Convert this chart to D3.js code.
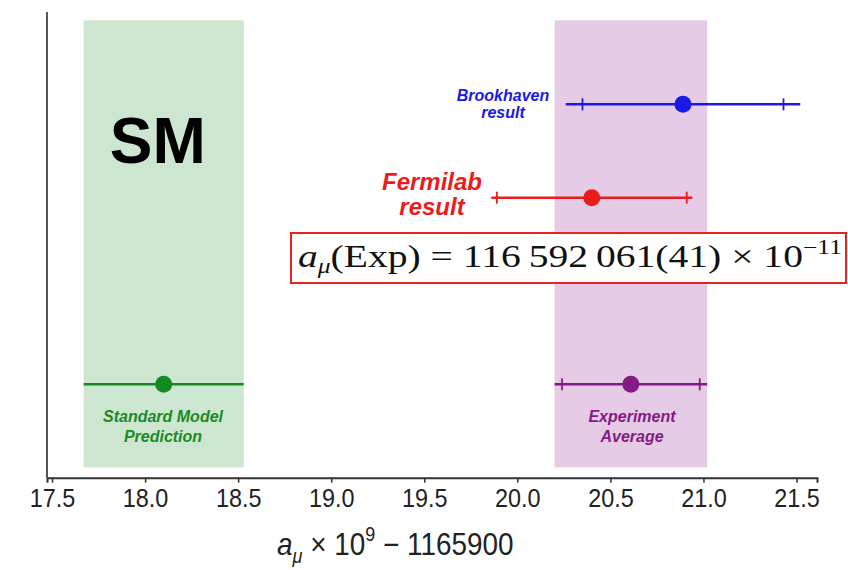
<!DOCTYPE html>
<html>
<head>
<meta charset="utf-8">
<script src="https://cdn.jsdelivr.net/npm/d3@7"></script>
<style>
  html, body { margin: 0; padding: 0; background: #fff; }
  svg { display: block; }
</style>
</head>
<body>
<svg id="chart" width="848" height="570"></svg>
<script>
// Muon g-2: measurements of a_mu compared with the Standard Model prediction
const tickValues = [17.5, 18.0, 18.5, 19.0, 19.5, 20.0, 20.5, 21.0, 21.5];
const rowNames = ["Brookhaven", "Fermilab", "Standard Model", "Experiment Average"];
const centralValues = [20.89, 20.40, 18.10, 20.61];
const totalErrors = [0.63, 0.54, 0.43, 0.41];
const statErrors = [0.54, 0.51, null, 0.37];
const rowLevels = [3, 2, 0, 0];
const rowLabels = [
  ["Brookhaven", "result"],
  ["Fermilab", "result"],
  ["Standard Model", "Prediction"],
  ["Experiment", "Average"]
];
const bandRows = [2, 3]; // rows drawn with a shaded uncertainty band

const lineColors = ["#1a1ae6", "#ec1c1c", "#138a22", "#841a84"];
const textColors = ["#1a1ae6", "#ec1c1c", "#1b8a28", "#841a84"];
const bandColors = { 2: "#cde6cf", 3: "#e5cbe5" };

const svg = d3.select("#chart");

const x = d3.scaleLinear().domain([17.473, 21.61]).range([47, 817]);
const y = d3.scaleLinear().domain([-1, 4]).range([477.7, 11]);

// shaded bands
svg.append("g").selectAll("rect")
  .data(bandRows)
  .join("rect")
  .attr("x", i => x(centralValues[i] - totalErrors[i]))
  .attr("width", i => x(centralValues[i] + totalErrors[i]) - x(centralValues[i] - totalErrors[i]))
  .attr("y", y(3.9))
  .attr("height", y(-0.89) - y(3.9))
  .attr("fill", i => bandColors[i]);

// SM label
svg.append("text")
  .attr("x", x(centralValues[2]) - 6)
  .attr("y", 163)
  .attr("text-anchor", "middle")
  .attr("font-family", "Liberation Sans, Arial, sans-serif")
  .attr("font-weight", "bold")
  .attr("font-size", 64)
  .attr("fill", "#000")
  .text("SM");

// left axis line
svg.append("line")
  .attr("x1", x.range()[0]).attr("x2", x.range()[0])
  .attr("y1", y(4) + 1).attr("y2", y(-1))
  .attr("stroke", "#555").attr("stroke-width", 2);

// bottom axis
const xAxis = d3.axisBottom(x)
  .tickValues(tickValues)
  .tickFormat(d3.format(".1f"))
  .tickSizeOuter(0)
  .tickSize(5)
  .tickPadding(6);

const gx = svg.append("g")
  .attr("transform", `translate(0,${y(-1)})`)
  .call(xAxis);
gx.select(".domain").attr("stroke", "#333").attr("stroke-width", 2);
gx.selectAll(".tick line").attr("stroke", "#333").attr("stroke-width", 1.5);
gx.selectAll(".tick text")
  .attr("font-family", "Liberation Sans, Arial, sans-serif")
  .attr("font-size", 26)
  .attr("fill", "#222")
  .attr("transform", "scale(0.9,1)");

// axis title
const title = svg.append("text")
  .attr("font-family", "Liberation Sans, Arial, sans-serif")
  .attr("font-size", 31)
  .attr("fill", "#222")
  .attr("transform", "translate(277,555) scale(0.9,1)");
title.append("tspan").attr("font-style", "italic").text("a");
title.append("tspan").attr("font-style", "italic").attr("font-size", 20).attr("dy", 8).text("μ");
title.append("tspan").attr("dy", -8).text(" × 10");
title.append("tspan").attr("font-size", 20).attr("dy", -14).text("9");
title.append("tspan").attr("dy", 14).text(" − 1165900");

// error bars
const rowsIdx = d3.range(rowNames.length);
const bars = svg.append("g").selectAll("g")
  .data(rowsIdx)
  .join("g");

bars.append("line")
  .attr("x1", i => x(centralValues[i] - totalErrors[i]))
  .attr("x2", i => x(centralValues[i] + totalErrors[i]))
  .attr("y1", i => y(rowLevels[i]))
  .attr("y2", i => y(rowLevels[i]))
  .attr("stroke", i => lineColors[i])
  .attr("stroke-width", 2.5);

bars.each(function (i) {
  if (statErrors[i] == null) return;
  d3.select(this).selectAll("line.cap")
    .data([centralValues[i] - statErrors[i], centralValues[i] + statErrors[i]])
    .join("line")
    .attr("class", "cap")
    .attr("x1", v => x(v)).attr("x2", v => x(v))
    .attr("y1", y(rowLevels[i]) - 6).attr("y2", y(rowLevels[i]) + 6)
    .attr("stroke", lineColors[i])
    .attr("stroke-width", 1.8);
});

bars.append("circle")
  .attr("cx", i => x(centralValues[i]))
  .attr("cy", i => y(rowLevels[i]))
  .attr("r", 8.5)
  .attr("fill", i => lineColors[i]);

// row labels
const labelSpec = [
  { cx: 503, y0: 100.7, dy: 17.5, size: 16 },
  { cx: 432, y0: 190, dy: 25, size: 24 },
  { cx: 163, y0: 421.7, dy: 20.5, size: 16 },
  { cx: 632, y0: 421.7, dy: 20.5, size: 16 }
];
rowsIdx.forEach(i => {
  const s = labelSpec[i];
  const t = svg.append("text")
    .attr("text-anchor", "middle")
    .attr("font-family", "Liberation Sans, Arial, sans-serif")
    .attr("font-weight", "bold")
    .attr("font-style", "italic")
    .attr("font-size", s.size)
    .attr("fill", textColors[i]);
  rowLabels[i].forEach((line, k) => {
    t.append("tspan").attr("x", s.cx).attr("y", s.y0 + k * s.dy).text(line);
  });
});

// measured value box
const boxG = svg.append("g");
boxG.append("rect")
  .attr("x", 291).attr("y", 233)
  .attr("width", 555).attr("height", 50)
  .attr("fill", "#fff")
  .attr("stroke", "#e8231c")
  .attr("stroke-width", 2);
const eq = boxG.append("text")
  .attr("x", 298).attr("y", 267)
  .attr("font-family", "Liberation Serif, DejaVu Serif, serif")
  .attr("font-size", 31)
  .attr("fill", "#111");
eq.append("tspan").attr("font-style", "italic").text("a");
eq.append("tspan").attr("font-style", "italic").attr("font-size", 20).attr("dy", 6).text("μ");
eq.append("tspan").attr("dy", -6).text("(Exp) = 116\u2009592\u2009061(41) × 10");
eq.append("tspan").attr("font-size", 20).attr("dy", -13).text("−11");
// fit the expression inside the box
const bb = eq.node().getBBox();
const target = 544;
const sx = target / bb.width;
eq.attr("transform", `translate(${298 - 298 * sx},0) scale(${sx},1)`);
</script>
</body>
</html>
